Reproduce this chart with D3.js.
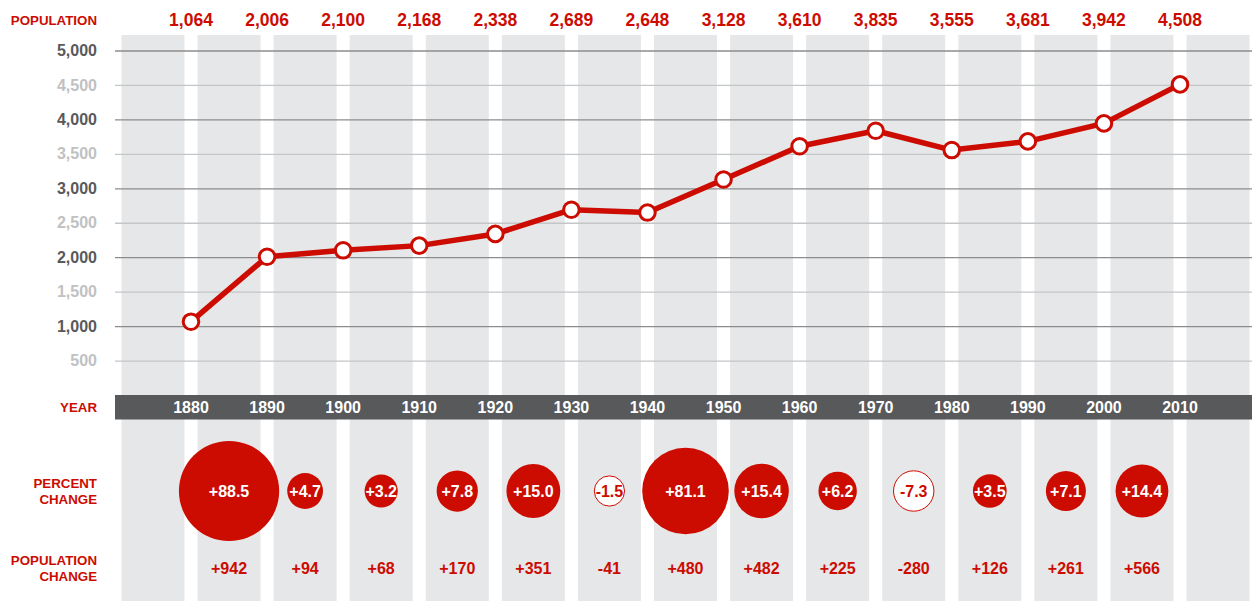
<!DOCTYPE html>
<html><head><meta charset="utf-8">
<script src="https://cdn.jsdelivr.net/npm/d3@7"></script>
<style>
html,body{margin:0;padding:0;background:#fff;}
text{font-family:"Liberation Sans",Arial,sans-serif;font-weight:bold;}
</style></head>
<body>
<svg id="chart" width="1252" height="601"></svg>
<script>
const years = [1880,1890,1900,1910,1920,1930,1940,1950,1960,1970,1980,1990,2000,2010];
const population = [1064,2006,2100,2168,2338,2689,2648,3128,3610,3835,3555,3681,3942,4508];
const percentChange = [88.5,4.7,3.2,7.8,15.0,-1.5,81.1,15.4,6.2,-7.3,3.5,7.1,14.4];
const populationChange = [942,94,68,170,351,-41,480,482,225,-280,126,261,566];
const yTicks = [500,1000,1500,2000,2500,3000,3500,4000,4500,5000];

const RED = "#cc0c00", DARK = "#58595b", COL = "#e6e7e8";
const svg = d3.select("#chart");
const W = 1252, H = 601;

const x = d3.scaleLinear().domain([1880, 2010]).range([191, 1180]);
const y = d3.scaleLinear().domain([0, 5000]).range([395, 50.5]);
const r = d3.scaleLinear().domain([0, 16, 80, 90]).range([13.8, 27.8, 42.3, 51.5]);
const fmt = d3.format(",");
const sgn = v => (v > 0 ? "+" : "") + v;

// background columns
const colYears = d3.range(1880, 2021, 10);
const colW = x(1880 + 8.28) - x(1880);
svg.append("g").selectAll("rect").data(colYears).join("rect")
  .attr("x", d => x(d - 5) - colW / 2).attr("y", 35)
  .attr("width", colW).attr("height", H - 35).attr("fill", COL);

// y axis gridlines
const yAxis = d3.axisLeft(y).tickValues(yTicks).tickFormat(fmt)
  .tickSize(-(W - 115)).tickPadding(18);
const gy = svg.append("g").attr("transform", "translate(115,0)").call(yAxis);
gy.select(".domain").remove();
gy.selectAll(".tick line")
  .attr("stroke", d => d % 1000 === 0 ? "#8c8c8d" : "#c4c5c7")
  .attr("stroke-width", 1.3);
gy.selectAll(".tick text")
  .attr("fill", d => d % 1000 === 0 ? DARK : "#c0c1c3")
  .attr("font-size", 16).attr("font-family", "Liberation Sans, Arial, sans-serif")
  .attr("font-weight", "bold");

// year bar
svg.append("rect").attr("x", 115).attr("y", 395).attr("width", W - 115).attr("height", 24.5).attr("fill", DARK);
svg.append("g").selectAll("text").data(years).join("text")
  .attr("x", d => x(d)).attr("y", 407).attr("dy", "0.36em")
  .attr("text-anchor", "middle").attr("fill", "#fff").attr("font-size", 16)
  .text(d => d);

// row labels
const labels = [
  {lines: ["POPULATION"], y: 20},
  {lines: ["YEAR"], y: 407},
  {lines: ["PERCENT", "CHANGE"], y: 491},
  {lines: ["POPULATION", "CHANGE"], y: 568}
];
labels.forEach(l => {
  const t = svg.append("text").attr("x", 97).attr("text-anchor", "end")
    .attr("fill", RED).attr("font-size", 13.3);
  l.lines.forEach((s, i) => {
    t.append("tspan").attr("x", 97)
      .attr("y", l.y + (i - (l.lines.length - 1) / 2) * 16)
      .attr("dy", "0.36em").text(s);
  });
});

// top population labels
svg.append("g").selectAll("text").data(population).join("text")
  .attr("x", (d, i) => x(years[i])).attr("y", 20).attr("dy", "0.36em")
  .attr("text-anchor", "middle").attr("fill", RED).attr("font-size", 17.5)
  .text(d => fmt(d));

// line
const line = d3.line().x((d, i) => x(years[i])).y(d => y(d));
svg.append("path").datum(population).attr("d", line)
  .attr("fill", "none").attr("stroke", RED).attr("stroke-width", 5.5)
  .attr("stroke-linejoin", "round");
svg.append("g").selectAll("circle").data(population).join("circle")
  .attr("cx", (d, i) => x(years[i])).attr("cy", d => y(d)).attr("r", 7.8)
  .attr("fill", "#fff").attr("stroke", RED).attr("stroke-width", 3);

// bubbles
const by = 491;
const bg = svg.append("g");
bg.selectAll("circle").data(percentChange).join("circle")
  .attr("cx", (d, i) => x(years[i] + 5)).attr("cy", by)
  .attr("r", d => r(Math.abs(d)))
  .attr("fill", d => d >= 0 ? RED : "#fff")
  .attr("stroke", d => d >= 0 ? "none" : RED).attr("stroke-width", 1);
bg.selectAll("text").data(percentChange).join("text")
  .attr("x", (d, i) => x(years[i] + 5)).attr("y", by).attr("dy", "0.36em")
  .attr("text-anchor", "middle").attr("font-size", 16)
  .attr("fill", d => d >= 0 ? "#fff" : RED)
  .text(d => sgn(d.toFixed(1)).replace("+-", "-"));

// population change
svg.append("g").selectAll("text").data(populationChange).join("text")
  .attr("x", (d, i) => x(years[i] + 5)).attr("y", 568).attr("dy", "0.36em")
  .attr("text-anchor", "middle").attr("font-size", 16).attr("fill", RED)
  .text(d => sgn(d));
</script>
</body></html>
